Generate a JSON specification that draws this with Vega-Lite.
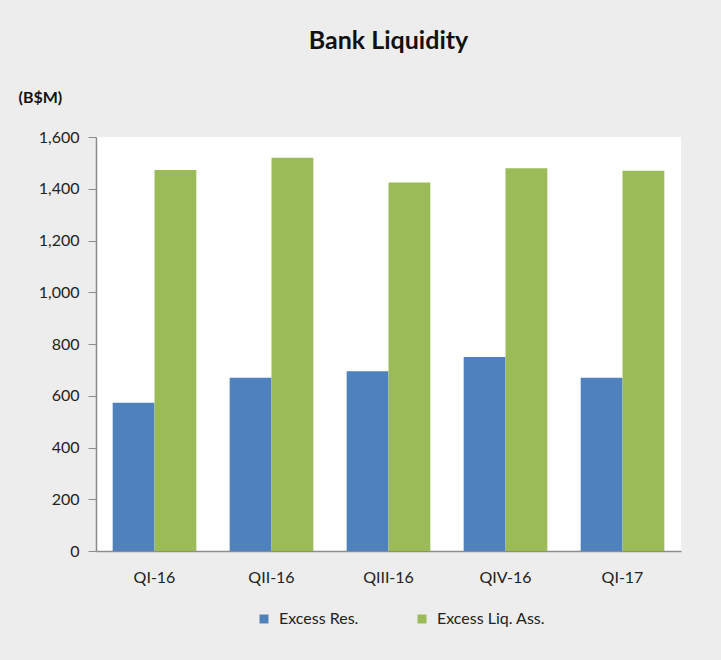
{
  "$schema": "https://vega.github.io/schema/vega-lite/v6.json",
  "autosize": {"type": "none"},
  "width": 585,
  "height": 414,
  "padding": {"left": 96, "top": 137, "right": 40, "bottom": 109},
  "background": "#ededed",
  "title": {
    "text": "Bank Liquidity",
    "fontSize": 25,
    "fontWeight": "bold",
    "font": "Lato",
    "color": "#111111",
    "anchor": "middle",
    "offset": 35
  },
  "data": {
    "values": [
      {"quarter": "QI-16", "series": "Excess Res.", "value": 573},
      {"quarter": "QI-16", "series": "Excess Liq. Ass.", "value": 1472},
      {"quarter": "QII-16", "series": "Excess Res.", "value": 670},
      {"quarter": "QII-16", "series": "Excess Liq. Ass.", "value": 1520},
      {"quarter": "QIII-16", "series": "Excess Res.", "value": 695},
      {"quarter": "QIII-16", "series": "Excess Liq. Ass.", "value": 1424},
      {"quarter": "QIV-16", "series": "Excess Res.", "value": 750},
      {"quarter": "QIV-16", "series": "Excess Liq. Ass.", "value": 1479},
      {"quarter": "QI-17", "series": "Excess Res.", "value": 670},
      {"quarter": "QI-17", "series": "Excess Liq. Ass.", "value": 1470}
    ]
  },
  "mark": {"type": "bar"},
  "encoding": {
    "x": {
      "field": "quarter",
      "type": "nominal",
      "sort": ["QI-16", "QII-16", "QIII-16", "QIV-16", "QI-17"],
      "scale": {"paddingInner": 0.285, "paddingOuter": 0.1425},
      "axis": {
        "title": null,
        "labelAngle": 0,
        "ticks": false,
        "labelPadding": 18,
        "labelFontSize": 16,
        "labelFont": "Lato",
        "labelColor": "#222222",
        "domainColor": "#8c8c8c",
        "domainWidth": 1.5,
        "grid": false
      }
    },
    "xOffset": {
      "field": "series",
      "type": "nominal",
      "sort": ["Excess Res.", "Excess Liq. Ass."],
      "scale": {"paddingInner": 0, "paddingOuter": 0}
    },
    "y": {
      "field": "value",
      "type": "quantitative",
      "scale": {"domain": [0, 1600]},
      "axis": {
        "values": [0, 200, 400, 600, 800, 1000, 1200, 1400, 1600],
        "format": ",d",
        "grid": false,
        "tickSize": 8,
        "tickColor": "#8c8c8c",
        "domainColor": "#8c8c8c",
        "domainWidth": 1.5,
        "labelPadding": 9,
        "labelFontSize": 16,
        "labelFont": "Lato",
        "labelColor": "#222222",
        "title": "(B$M)",
        "titleAngle": 0,
        "titleAlign": "left",
        "titleBaseline": "middle",
        "titleX": -78,
        "titleY": -40,
        "titleFont": "Lato",
        "titleFontSize": 16,
        "titleFontWeight": "bold",
        "titleColor": "#111111"
      }
    },
    "color": {
      "field": "series",
      "type": "nominal",
      "sort": ["Excess Res.", "Excess Liq. Ass."],
      "scale": {"domain": ["Excess Res.", "Excess Liq. Ass."], "range": ["#4f81bd", "#9bbb59"]},
      "legend": {
        "title": null,
        "orient": "none",
        "direction": "horizontal",
        "legendX": 160,
        "legendY": 474,
        "symbolType": "square",
        "symbolSize": 80,
        "symbolStrokeWidth": 0,
        "labelFont": "Lato",
        "labelFontSize": 16,
        "labelColor": "#222222",
        "labelOffset": 7,
        "columnPadding": 55
      }
    }
  },
  "config": {
    "view": {"fill": "white", "stroke": null}
  }
}
